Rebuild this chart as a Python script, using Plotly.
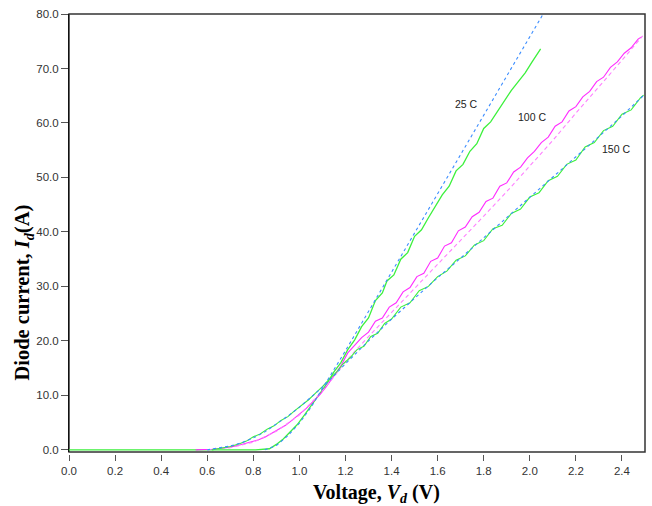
import plotly.graph_objects as go

# ---- data ----
x_ticks = [0.0, 0.2, 0.4, 0.6, 0.8, 1.0, 1.2, 1.4, 1.6, 1.8, 2.0, 2.2, 2.4]
y_ticks = [0, 10, 20, 30, 40, 50, 60, 70, 80]

# 25 C measured (green)
v25 = [0.00, 0.81, 0.87, 0.90, 0.93, 0.96, 0.99, 1.02, 1.06, 1.09, 1.12, 1.15, 1.18, 1.21,
       1.24, 1.27, 1.30, 1.33, 1.36, 1.38, 1.41, 1.44, 1.47, 1.50, 1.53, 1.56, 1.59, 1.62,
       1.65, 1.68, 1.71, 1.74, 1.77, 1.80, 1.83, 1.86, 1.89, 1.92, 1.95, 1.98, 2.01, 2.03, 2.047]
i25 = [0.0, 0.0, 0.2, 1.0, 2.0, 3.4, 4.6, 6.3, 8.6, 10.4, 12.2, 14.3, 16.0, 18.4,
       20.2, 22.6, 24.2, 27.4, 28.8, 31.0, 32.1, 35.0, 36.2, 39.2, 40.4, 42.6, 44.6, 46.8,
       48.4, 51.2, 52.4, 54.8, 56.2, 59.0, 60.2, 62.2, 64.2, 66.0, 67.6, 69.2, 71.2, 72.6, 73.6]

# 25 C model (blue dashed)
v25m = [0.85, 0.90, 0.95, 1.00, 1.05, 1.10, 1.15, 1.20, 1.30, 1.40, 1.50, 1.60, 1.70, 1.80, 1.90, 2.00, 2.058]
i25m = [0.0, 0.8, 2.6, 4.9, 7.8, 11.2, 14.6, 18.2, 25.4, 32.6, 39.8, 47.0, 54.2, 61.4, 68.6, 75.8, 80.0]

# 100 C measured (magenta)
v100 = [0.55, 0.62, 0.66, 0.70, 0.74, 0.78, 0.82, 0.85, 0.88, 0.91, 0.94, 0.97, 1.00, 1.03,
        1.06, 1.09, 1.12, 1.15, 1.18, 1.21, 1.24, 1.27, 1.30, 1.33, 1.36, 1.39, 1.42, 1.45,
        1.48, 1.51, 1.54, 1.57, 1.60, 1.63, 1.66, 1.69, 1.72, 1.75, 1.78, 1.81, 1.84, 1.87,
        1.90, 1.93, 1.96, 1.99, 2.02, 2.05, 2.08, 2.11, 2.14, 2.17, 2.20, 2.23, 2.26, 2.29,
        2.32, 2.35, 2.38, 2.41, 2.44, 2.47, 2.485]
i100 = [0.0, 0.1, 0.3, 0.5, 0.9, 1.3, 1.8, 2.3, 3.0, 3.8, 4.5, 5.5, 6.5, 7.6,
        8.9, 10.2, 11.8, 13.6, 15.4, 17.8, 19.2, 20.6, 21.6, 23.6, 24.2, 26.2, 27.0, 29.0,
        29.8, 31.8, 32.4, 34.6, 35.2, 37.4, 38.0, 40.2, 40.9, 42.8, 43.6, 45.6, 46.2, 48.4,
        49.0, 51.0, 51.9, 53.6, 54.8, 56.4, 57.4, 59.4, 60.2, 62.2, 63.0, 64.8, 65.8, 67.6,
        68.4, 70.2, 71.2, 72.8, 73.8, 75.4, 75.8]

# 100 C model (magenta dashed)
v100m = [0.60, 0.70, 0.80, 0.90, 1.00, 1.10, 1.15, 1.20, 1.30, 1.40, 1.50, 1.60, 1.70, 1.80,
         1.90, 2.00, 2.10, 2.20, 2.30, 2.40, 2.49]
i100m = [0.0, 0.4, 1.4, 3.4, 6.4, 10.8, 13.4, 16.2, 20.8, 25.2, 29.6, 34.0, 38.4, 42.9,
         47.4, 52.0, 56.8, 61.8, 66.6, 71.5, 76.0]

# 150 C measured (green)
v150 = [0.62, 0.66, 0.70, 0.74, 0.77, 0.80, 0.83, 0.86, 0.89, 0.92, 0.95, 0.98, 1.01, 1.04,
        1.07, 1.10, 1.13, 1.16, 1.19, 1.22, 1.25, 1.28, 1.31, 1.34, 1.37, 1.40, 1.44, 1.48,
        1.52, 1.56, 1.60, 1.64, 1.68, 1.72, 1.76, 1.80, 1.84, 1.88, 1.92, 1.96, 2.00, 2.04,
        2.08, 2.12, 2.16, 2.20, 2.24, 2.28, 2.32, 2.36, 2.40, 2.44, 2.48, 2.494]
i150 = [0.0, 0.3, 0.6, 1.1, 1.6, 2.4, 2.9, 3.8, 4.4, 5.4, 6.1, 7.2, 8.2, 9.2,
        10.4, 11.6, 13.0, 14.2, 15.8, 16.9, 18.4, 19.0, 20.8, 21.4, 23.2, 24.0, 26.2, 27.0,
        29.2, 30.0, 31.8, 32.8, 34.8, 35.6, 37.6, 38.4, 40.6, 41.2, 43.4, 44.2, 46.4, 47.2,
        49.4, 50.2, 52.4, 53.2, 55.6, 56.4, 58.6, 59.4, 61.6, 62.4, 64.6, 65.1]

# 150 C model (blue dashed)
v150m = [0.60, 0.65, 0.70, 0.75, 0.80, 0.85, 0.90, 0.95, 1.00, 1.05, 1.10, 1.15, 1.20, 1.30,
         1.40, 1.50, 1.60, 1.70, 1.80, 1.90, 2.00, 2.10, 2.20, 2.30, 2.40, 2.50]
i150m = [0.0, 0.3, 0.7, 1.3, 2.2, 3.3, 4.7, 6.2, 7.8, 9.6, 11.5, 13.6, 15.8, 20.0,
         24.0, 27.8, 31.6, 35.2, 38.9, 42.6, 46.3, 50.0, 53.7, 57.5, 61.3, 65.3]

labels = ["25 C", "100 C", "150 C"]
label_x = [1.725, 2.01, 2.373]
label_y = [63.5, 61.1, 55.2]

# ---- figure ----
GREEN = "#3cf03c"
MAGENTA = "#ff2cff"
MAG_DASH = "#ff80ff"
BLUE = "#3a8cff"

fig = go.Figure()
fig.add_trace(go.Scatter(x=v25, y=i25, mode="lines", line=dict(color=GREEN, width=1.3)))
fig.add_trace(go.Scatter(x=v100, y=i100, mode="lines", line=dict(color=MAGENTA, width=1.1)))
fig.add_trace(go.Scatter(x=v100m, y=i100m, mode="lines",
                         line=dict(color=MAG_DASH, width=1.1, dash="4px,3px")))
fig.add_trace(go.Scatter(x=v150, y=i150, mode="lines", line=dict(color=GREEN, width=1.1)))
fig.add_trace(go.Scatter(x=v25m, y=i25m, mode="lines",
                         line=dict(color=BLUE, width=1.1, dash="3px,3px")))
fig.add_trace(go.Scatter(x=v150m, y=i150m, mode="lines",
                         line=dict(color=BLUE, width=1.1, dash="3px,3px")))

for t, lx, ly in zip(labels, label_x, label_y):
    fig.add_annotation(x=lx, y=ly, text=t, showarrow=False, xref="x", yref="y",
                       font=dict(family="Arial, Liberation Sans", size=10.5, color="#222"))

# axis titles
fig.add_annotation(xref="paper", yref="paper", x=0.533, y=-0.089, showarrow=False,
                   text="<b>Voltage, <i>V<sub>d</sub></i> (V)</b>",
                   font=dict(family="Times New Roman, Liberation Serif", size=20, color="#000"),
                   xanchor="center", yanchor="middle")
fig.add_annotation(xref="paper", yref="paper", x=-0.079, y=0.368, showarrow=False,
                   text="<b>Diode current, <i>I<sub>d</sub></i>(A)</b>", textangle=-90,
                   font=dict(family="Times New Roman, Liberation Serif", size=20.5, color="#000"),
                   xanchor="center", yanchor="middle")

# frame (below traces so the zero baseline stays visible)
fig.add_shape(type="rect", xref="x domain", yref="y domain", x0=0, x1=1, y0=0, y1=1,
              line=dict(color="#333", width=1.5), layer="below")

tickfont = dict(family="Arial, Liberation Sans", size=11.5, color="#333")
fig.update_layout(
    width=652, height=506,
    margin=dict(l=69, r=7, t=14, b=52),
    paper_bgcolor="white", plot_bgcolor="white",
    showlegend=False,
    xaxis=dict(range=[0, 2.5], tickvals=x_ticks, ticktext=[f"{v:.1f}" for v in x_ticks],
               showgrid=False, zeroline=False, showline=False,
               ticks="outside", ticklen=6, tickcolor="#555", tickwidth=1,
               anchor="free", position=0, tickfont=tickfont),
    yaxis=dict(range=[-0.4, 80], tickvals=y_ticks, ticktext=[f"{v:.1f}" for v in y_ticks],
               domain=[0.0045, 1],
               showgrid=False, zeroline=False, showline=True, linecolor="#111", linewidth=1,
               ticks="outside", ticklen=7, tickcolor="#555", tickwidth=1,
               tickfont=tickfont),
)

fig.write_html("out.html")
